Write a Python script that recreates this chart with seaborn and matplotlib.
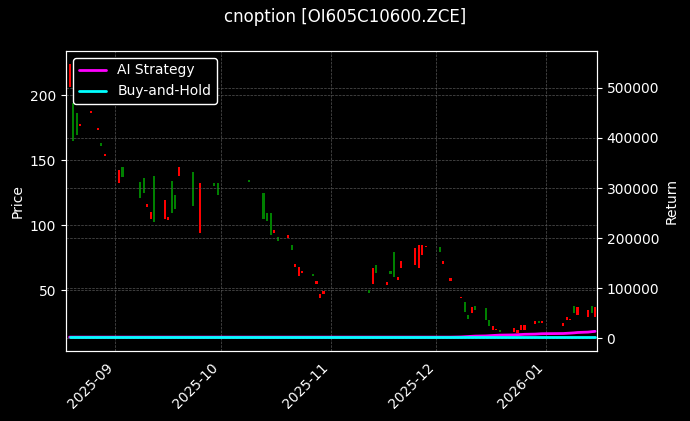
import pandas as pd
import seaborn as sns
import matplotlib.pyplot as plt
import matplotlib.dates as mdates

# candle data (date, open, close)
dates = ['2025-08-19', '2025-08-20', '2025-08-21', '2025-08-22', '2025-08-25', '2025-08-27',
         '2025-08-28', '2025-08-29', '2025-09-02', '2025-09-03', '2025-09-08', '2025-09-09',
         '2025-09-10', '2025-09-11', '2025-09-12', '2025-09-15', '2025-09-16', '2025-09-17',
         '2025-09-18', '2025-09-19', '2025-09-23', '2025-09-25', '2025-09-29', '2025-09-30',
         '2025-10-09', '2025-10-13', '2025-10-14', '2025-10-15', '2025-10-16', '2025-10-17',
         '2025-10-20', '2025-10-21', '2025-10-22', '2025-10-23', '2025-10-24', '2025-10-27',
         '2025-10-28', '2025-10-29', '2025-10-30', '2025-11-12', '2025-11-13', '2025-11-14',
         '2025-11-17', '2025-11-18', '2025-11-19', '2025-11-20', '2025-11-21', '2025-11-25',
         '2025-11-26', '2025-11-27', '2025-11-28', '2025-12-02', '2025-12-03', '2025-12-05',
         '2025-12-08', '2025-12-09', '2025-12-10', '2025-12-11', '2025-12-12', '2025-12-15',
         '2025-12-16', '2025-12-17', '2025-12-18', '2025-12-19', '2025-12-23', '2025-12-24',
         '2025-12-25', '2025-12-26', '2025-12-29', '2025-12-30', '2025-12-31', '2026-01-06',
         '2026-01-07', '2026-01-08', '2026-01-09', '2026-01-10', '2026-01-13', '2026-01-14',
         '2026-01-15']
opens = [224, 165, 169, 178, 188, 175, 161, 155, 142, 137, 121, 125, 116, 110, 102, 119, 106, 109,
         112, 145, 115, 132, 130, 123, 133, 105, 103, 92, 96, 88, 92, 81, 70, 68, 65, 61,
         57, 47, 49, 48, 67, 63, 56, 62, 60, 60, 72, 82, 85, 85, 84, 79, 72, 59, 45, 33, 28,
         37, 35, 27, 22, 22, 20, 18, 21, 19, 23, 23, 26, 25, 26, 25, 29, 28, 32, 37, 35, 32, 37]
closes = [206, 194, 186, 176, 186, 173, 163, 153, 132, 145, 133, 136, 114, 105, 138, 105, 104, 134,
          123, 138, 141, 94, 132, 132, 135, 125, 109, 109, 94, 91, 90, 85, 68, 61, 63, 62,
          55, 44, 47, 50, 55, 69, 54, 65, 79, 58, 67, 69, 67, 77, 83, 83, 70, 57, 44, 41, 31,
          32, 38, 36, 27, 19, 19, 19, 18, 17, 19, 19, 24, 25, 25, 22, 27, 27, 38, 31, 29, 38, 29]
# strategy returns on the same dates
ai_return = [2000] * 54 + [2400, 2800, 3200, 3600, 4000, 4400, 4800, 5200, 5600, 6000, 6400, 6800,
                           7200, 7600, 8000, 8400, 8800, 9200, 9600, 10000, 10500, 11200, 12000,
                           12800, 13500]
bh_return = [2000] * len(dates)

df = pd.DataFrame({'date': pd.to_datetime(dates), 'open': opens, 'close': closes,
                   'ai': ai_return, 'bh': bh_return})

plt.style.use('dark_background')
sns.set_style('dark', {'axes.facecolor': 'black', 'figure.facecolor': 'black',
                       'axes.edgecolor': 'white', 'text.color': 'white',
                       'axes.labelcolor': 'white', 'xtick.color': 'white', 'ytick.color': 'white'})
plt.rcParams['font.family'] = ['DejaVu Sans']

fig, ax = plt.subplots(figsize=(6.9, 4.21), dpi=100)
fig.subplots_adjust(left=0.0957, right=0.865, top=0.879, bottom=0.166)

# candles
colors = ['red' if c < o else 'green' for o, c in zip(df['open'], df['close'])]
bottoms = df[['open', 'close']].min(axis=1)
heights = (df['close'] - df['open']).abs().clip(lower=0.8)
ax.bar(df['date'], heights, bottom=bottoms, width=0.6, color=colors, linewidth=0)

ax.set_ylim(3, 234)
ax.set_xlim(pd.Timestamp('2025-08-18'), pd.Timestamp('2026-01-15 12:00'))
ax.set_ylabel('Price')
ax.grid(True, color='#555555', linestyle='--', linewidth=0.5)
ax.xaxis.set_major_locator(mdates.MonthLocator())
ax.xaxis.set_major_formatter(mdates.DateFormatter('%Y-%m'))
plt.setp(ax.get_xticklabels(), rotation=45, ha='right')

ax2 = ax.twinx()
sns.lineplot(data=df, x='date', y='ai', ax=ax2, color='magenta', linewidth=2, label='AI Strategy')
sns.lineplot(data=df, x='date', y='bh', ax=ax2, color='cyan', linewidth=2, label='Buy-and-Hold')
ax2.set_ylim(-26000, 574000)
ax2.set_ylabel('Return')
ax2.set_xlabel('')
ax2.grid(True, color='#555555', linestyle='--', linewidth=0.5)
ax2.legend(loc='upper left', facecolor='black', edgecolor='white', framealpha=1)
for s in ax2.spines.values():
    s.set_color('white')

fig.suptitle('cnoption [OI605C10600.ZCE]', fontsize=12)
plt.savefig('out.png')
plt.close()
